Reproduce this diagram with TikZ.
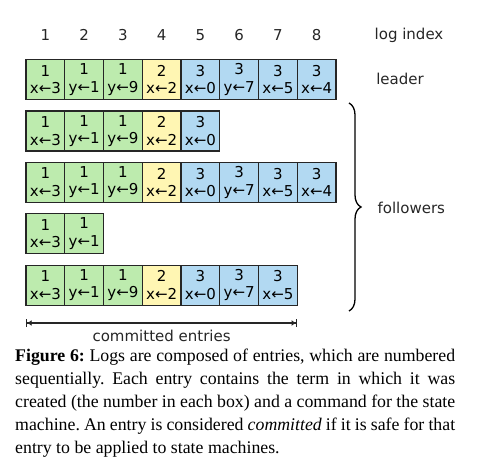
\documentclass[tikz,border=0pt]{standalone}
\usepackage{fontspec}
\setsansfont{DejaVu Sans}
\newfontfamily\captionserif{Liberation Serif}
\usepackage{tikz}
\usetikzlibrary{arrows.meta, decorations.pathreplacing}
\definecolor{termgreen}{HTML}{BDEBAE}
\definecolor{termyellow}{HTML}{FFF6B3}
\definecolor{termblue}{HTML}{B2D9F2}
\definecolor{boxline}{HTML}{262626}

\begin{document}
\begin{tikzpicture}[
    x=1pt, y=-1pt,
    entry/.style={draw=boxline, line width=1.2pt, minimum width=38.75pt, minimum height=40pt, inner sep=0pt, align=center, font=\sffamily\fontsize{15}{17.5}\selectfont},
    oldterm/.style={entry, fill=termgreen},
    midterm/.style={entry, fill=termyellow},
    newterm/.style={entry, fill=termblue},
    idx/.style={font=\sffamily\fontsize{15}{17.5}\selectfont, text=boxline},
    dimline/.style={{Bar[width=8pt]Latex[length=4.5pt,width=6pt]}-{Latex[length=4.5pt,width=6pt]Bar[width=8pt]}, line width=1.2pt, draw=boxline},
    caption/.style={text width=440pt, align=justify, inner sep=0pt, font=\captionserif\fontsize{17.8}{23}\selectfont},
]
\useasboundingbox (0,0) rectangle (486,466);

% Log index
\foreach \i in {1,...,8}
  \node[idx] (n\i) at ({26+38.75*(\i-0.5)},35) {\i};
\node[idx] (logidx) at (409,35) {log index};

% Leader
\node[oldterm] (a1) at (45.375,79.5) {1\\x←3};
\node[oldterm] (a2) at (84.125,79.5) {1\\y←1};
\node[oldterm] (a3) at (122.875,79.5) {1\\y←9};
\node[midterm] (a4) at (161.625,79.5) {2\\x←2};
\node[newterm] (a5) at (200.375,79.5) {3\\x←0};
\node[newterm] (a6) at (239.125,79.5) {3\\y←7};
\node[newterm] (a7) at (277.875,79.5) {3\\x←5};
\node[newterm] (a8) at (316.625,79.5) {3\\x←4};
\node[idx] (leader) at (400,79) {leader};

% Follower 1
\node[oldterm] (b1) at (45.375,130.9) {1\\x←3};
\node[oldterm] (b2) at (84.125,130.9) {1\\y←1};
\node[oldterm] (b3) at (122.875,130.9) {1\\y←9};
\node[midterm] (b4) at (161.625,130.9) {2\\x←2};
\node[newterm] (b5) at (200.375,130.9) {3\\x←0};

% Follower 2
\node[oldterm] (c1) at (45.375,182.3) {1\\x←3};
\node[oldterm] (c2) at (84.125,182.3) {1\\y←1};
\node[oldterm] (c3) at (122.875,182.3) {1\\y←9};
\node[midterm] (c4) at (161.625,182.3) {2\\x←2};
\node[newterm] (c5) at (200.375,182.3) {3\\x←0};
\node[newterm] (c6) at (239.125,182.3) {3\\y←7};
\node[newterm] (c7) at (277.875,182.3) {3\\x←5};
\node[newterm] (c8) at (316.625,182.3) {3\\x←4};

% Follower 3
\node[oldterm] (d1) at (45.375,233.7) {1\\x←3};
\node[oldterm] (d2) at (84.125,233.7) {1\\y←1};

% Follower 4
\node[oldterm] (e1) at (45.375,285.1) {1\\x←3};
\node[oldterm] (e2) at (84.125,285.1) {1\\y←1};
\node[oldterm] (e3) at (122.875,285.1) {1\\y←9};
\node[midterm] (e4) at (161.625,285.1) {2\\x←2};
\node[newterm] (e5) at (200.375,285.1) {3\\x←0};
\node[newterm] (e6) at (239.125,285.1) {3\\y←7};
\node[newterm] (e7) at (277.875,285.1) {3\\x←5};

% Followers brace
\coordinate (btop) at (349,103);
\coordinate (bbot) at (349,311);
\draw[decorate, decoration={brace, amplitude=12pt}, line width=1.3pt] (btop) -- (bbot);
\node[idx, anchor=west] (followers) at (374,208) {followers};

% Committed entries
\coordinate (cl) at (26,323);
\coordinate (cr) at (297.25,323);
\draw[dimline] (cl) -- (cr);
\node[idx] (committed) at (161.6,335.5) {committed entries};

% Caption
\node[caption, anchor=north west] (cap) at (15,348.5) {\frenchspacing\hyphenpenalty=10000\exhyphenpenalty=10000
  \textbf{Figure 6:} Logs are composed of entries, which are numbered\linebreak
  sequentially. Each entry contains the term in which it was\linebreak
  created (the number in each box) and a command for the state\linebreak
  machine. An entry is considered \textit{committed} if it is safe for that\linebreak
  entry to be applied to state machines.};

\end{tikzpicture}
\end{document}
